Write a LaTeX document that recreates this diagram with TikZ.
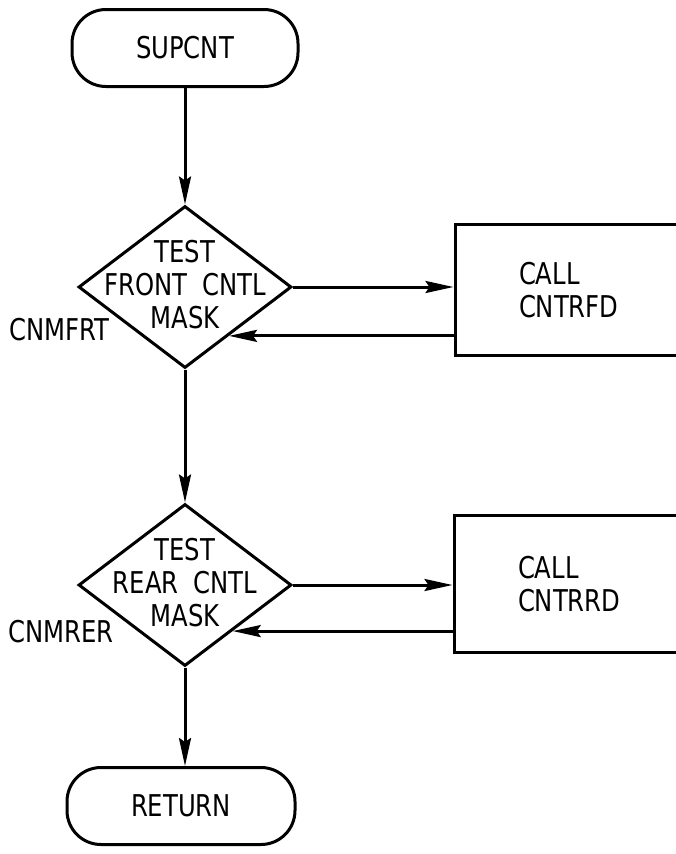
\documentclass[tikz,border=0pt]{standalone}
\usepackage{fontspec}
\setsansfont{DejaVu Sans Condensed}[FakeStretch=0.9]
\usetikzlibrary{arrows.meta,shapes.geometric}

\begin{document}
\begin{tikzpicture}[
  x=1pt, y=-1pt,
  font=\sffamily\fontsize{30}{33}\selectfont,
  term/.style={draw, line width=3pt, rounded corners=34pt, minimum width=226pt, minimum height=77pt},
  test/.style={draw, diamond, line width=3pt, minimum width=213pt, minimum height=162pt, inner sep=0pt},
  txt/.style={align=center, inner sep=0pt},
  callbox/.style={draw, line width=3pt, align=left, text width=112pt, inner xsep=64pt},
  arrow/.style={-{Stealth[length=28pt,width=12pt,inset=4pt]}, line width=3pt}
]
\useasboundingbox (0,0) rectangle (676,854);

\node[term] (start) at (185,48) {SUPCNT};

\node[test] (d1) at (185,287) {};
\node[txt] (d1txt) at (185,285) {TEST\\FRONT\hspace{0.25em} CNTL\\MASK};
\node (lfrt) at (59,330) {CNMFRT};
\node[callbox, minimum height=131pt] (b1) at (575,290) {CALL\\CNTRFD};

\node[test] (d2) at (185,585) {};
\node[txt] (d2txt) at (185,583) {TEST\\REAR\hspace{0.25em} CNTL\\MASK};
\node (lrer) at (61,632) {CNMRER};
\node[callbox, minimum height=137pt] (b2) at (574,584) {CALL\\CNTRRD};

\node[term, minimum width=228pt] (ret) at (181,806) {RETURN};

\draw[arrow] (start) -- (d1);
\draw[arrow] (d1.east) -- (d1.east -| b1.west);
\draw[arrow] (d1.-48 -| b1.west) -- (d1.-48);
\draw[arrow] (d1) -- (d2);
\draw[arrow] (d2.east) -- (d2.east -| b2.west);
\draw[arrow] (d2.-44 -| b2.west) -- (d2.-44);
\draw[arrow] (d2.south) -- (d2.south |- ret.north);

\end{tikzpicture}
\end{document}
